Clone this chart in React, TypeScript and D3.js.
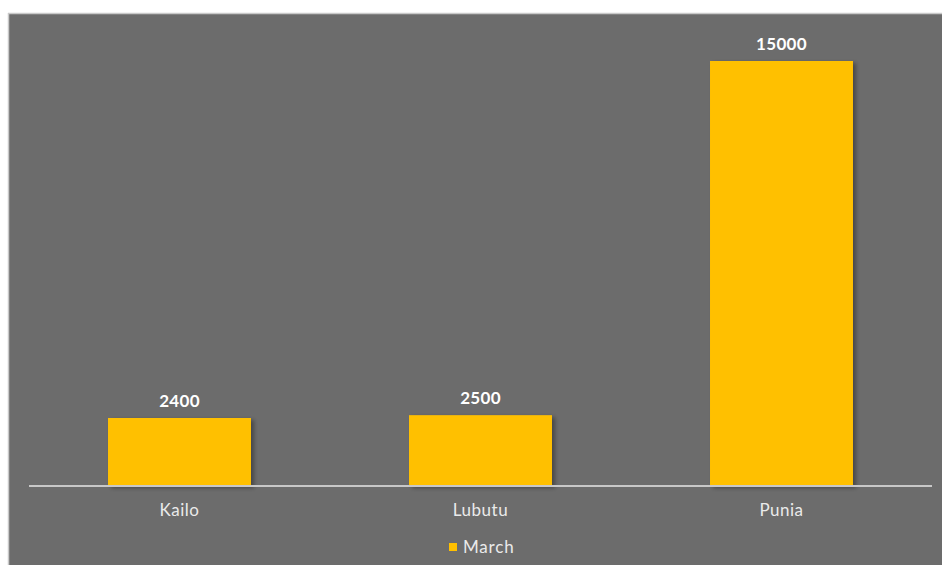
import React from "react";
import * as d3 from "d3";

const categories = ["Kailo", "Lubutu", "Punia"];
const marchValues = [2400, 2500, 15000];
const seriesName = "March";

const W = 942;
const H = 565;

export default function App() {
  const x = d3
    .scaleBand<string>()
    .domain(categories)
    .range([29, 932])
    .paddingInner(0.525)
    .paddingOuter(0.2625);
  const baseY = 486;
  const y = d3.scaleLinear().domain([0, 15000]).range([baseY, 61]);
  const font = "'Lato', 'Open Sans', sans-serif";

  return (
    <svg
      width={W}
      height={H}
      style={{ position: "absolute", left: 0, top: 0, display: "block" }}
    >
      <defs>
        <filter id="shadow" x="-10%" y="-10%" width="130%" height="130%">
          <feDropShadow dx="3" dy="2" stdDeviation="2" floodColor="#000" floodOpacity="0.35" />
        </filter>
      </defs>
      <rect x={0} y={0} width={W} height={H} fill="#ffffff" />
      <rect x={8} y={13} width={W - 8} height={H - 13} fill="#6c6c6c" />
      <line x1={8.5} y1={13} x2={8.5} y2={H} stroke="#c9c9c9" strokeWidth={1.5} />
      <line x1={8} y1={13.5} x2={W} y2={13.5} stroke="#c9c9c9" strokeWidth={1.5} />
      {categories.map((c, i) => (
        <rect
          key={c}
          x={x(c)}
          y={y(marchValues[i])}
          width={x.bandwidth()}
          height={baseY - y(marchValues[i])}
          fill="#ffc000"
          filter="url(#shadow)"
        />
      ))}
      <line x1={29} y1={baseY} x2={932} y2={baseY} stroke="#c8c8c8" strokeWidth={2} />
      {categories.map((c, i) => (
        <text
          key={"v" + c}
          x={(x(c) as number) + x.bandwidth() / 2}
          y={y(marchValues[i]) - 11}
          textAnchor="middle"
          fill="#ffffff"
          fontFamily={font}
          fontWeight="bold"
          fontSize={17}
          letterSpacing={0.3}
        >
          {marchValues[i]}
        </text>
      ))}
      {categories.map((c) => (
        <text
          key={"c" + c}
          x={(x(c) as number) + x.bandwidth() / 2}
          y={516}
          textAnchor="middle"
          fill="#eaeaea"
          fontFamily={font}
          fontSize={17}
          letterSpacing={0.5}
        >
          {c}
        </text>
      ))}
      <rect x={449} y={543} width={8} height={8} fill="#ffc000" />
      <text x={463} y={553} fill="#eaeaea" fontFamily={font} fontSize={17} letterSpacing={0.8}>
        {seriesName}
      </text>
    </svg>
  );
}
